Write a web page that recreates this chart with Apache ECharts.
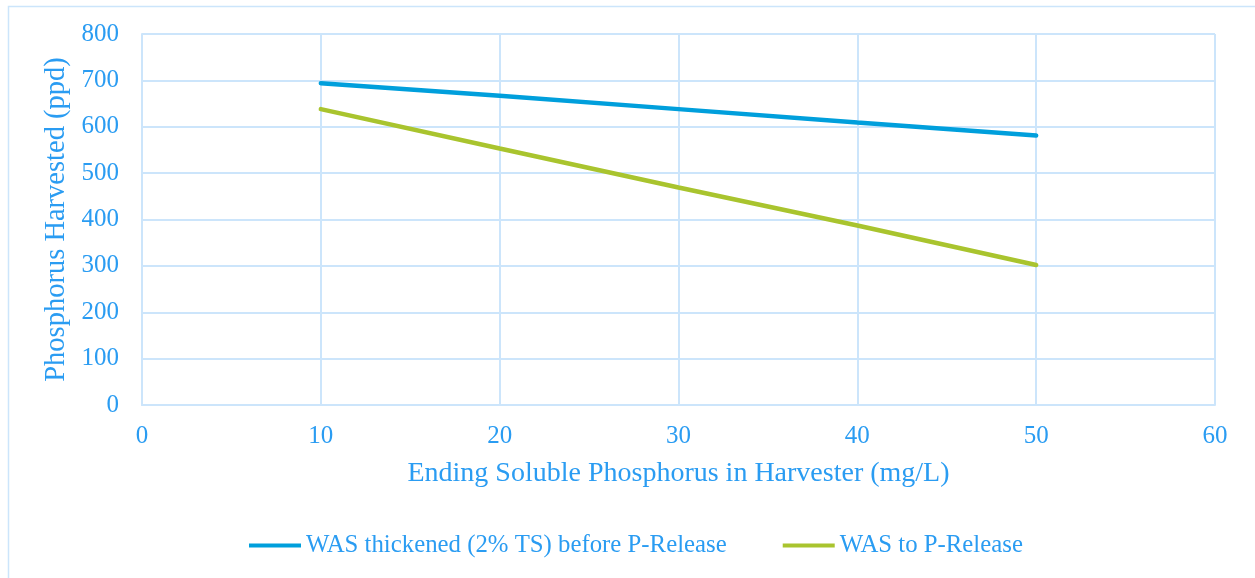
<!DOCTYPE html>
<html>
<head>
<meta charset="utf-8">
<script src="https://cdn.jsdelivr.net/npm/echarts@6/dist/echarts.min.js"></script>
<style>
  html, body { margin: 0; padding: 0; background: #ffffff; }
  #chart { width: 1255px; height: 578px; }
</style>
</head>
<body>
<div id="chart"></div>
<script>
// Ending soluble phosphorus (mg/L) at each run
const solubleP = [10, 20, 30, 40, 50];
// Phosphorus harvested (ppd) for each scenario
const thickenedWAS = [694, 667, 638, 609, 581];
const wasToRelease = [638, 553, 469, 387, 302];
const seriesNames = ['WAS thickened (2% TS) before P-Release', 'WAS to P-Release'];

const textColor = '#2a9cf2';
const gridColor = '#cce5fb';
const fontFamily = '"Liberation Serif", "DejaVu Serif", serif';

const pairs = (xs, ys) => xs.map((x, i) => [x, ys[i]]);

const chart = echarts.init(document.getElementById('chart'), null, { renderer: 'canvas' });
chart.setOption({
  animation: false,
  backgroundColor: '#ffffff',
  textStyle: { fontFamily: fontFamily, color: textColor },
  graphic: [{
    type: 'rect',
    left: 6, top: 4,
    shape: { x: 0, y: 0, width: 1270, height: 590 },
    style: { fill: 'none', stroke: gridColor, lineWidth: 1.5 },
    silent: true, z: -1
  }],
  grid: { left: 142, right: 40, top: 34, bottom: 173, show: false },
  xAxis: {
    type: 'value', min: 0, max: 60, interval: 10,
    name: 'Ending Soluble Phosphorus in Harvester (mg/L)',
    nameLocation: 'middle', nameGap: 55,
    nameTextStyle: { fontSize: 28, color: textColor, fontFamily: fontFamily },
    axisLine: { show: true, lineStyle: { color: gridColor, width: 2 } },
    axisTick: { show: false },
    axisLabel: { fontSize: 25, color: textColor, fontFamily: fontFamily, margin: 19 },
    splitLine: { show: true, lineStyle: { color: gridColor, width: 2 } }
  },
  yAxis: {
    type: 'value', min: 0, max: 800, interval: 100,
    name: 'Phosphorus Harvested (ppd)',
    nameLocation: 'middle', nameGap: 68,
    nameTextStyle: { fontSize: 28.5, color: textColor, fontFamily: fontFamily },
    axisLine: { show: true, lineStyle: { color: gridColor, width: 2 } },
    axisTick: { show: false },
    axisLabel: { fontSize: 25, color: textColor, fontFamily: fontFamily, margin: 23 },
    splitLine: { show: true, lineStyle: { color: gridColor, width: 2 } }
  },
  legend: {
    left: 244, top: 528,
    itemWidth: 52, itemHeight: 4, itemGap: 56,
    icon: 'rect',
    textStyle: { fontSize: 24.8, color: textColor, fontFamily: fontFamily, padding: [0, 0, 0, 0] },
    data: seriesNames
  },
  series: [
    {
      name: seriesNames[0], type: 'line',
      data: pairs(solubleP, thickenedWAS),
      showSymbol: false, symbol: 'none',
      lineStyle: { color: '#009fdc', width: 4.5, cap: 'round' },
      itemStyle: { color: '#009fdc' }
    },
    {
      name: seriesNames[1], type: 'line',
      data: pairs(solubleP, wasToRelease),
      showSymbol: false, symbol: 'none',
      lineStyle: { color: '#a9c42e', width: 4.5, cap: 'round' },
      itemStyle: { color: '#a9c42e' }
    }
  ]
});
</script>
</body>
</html>
